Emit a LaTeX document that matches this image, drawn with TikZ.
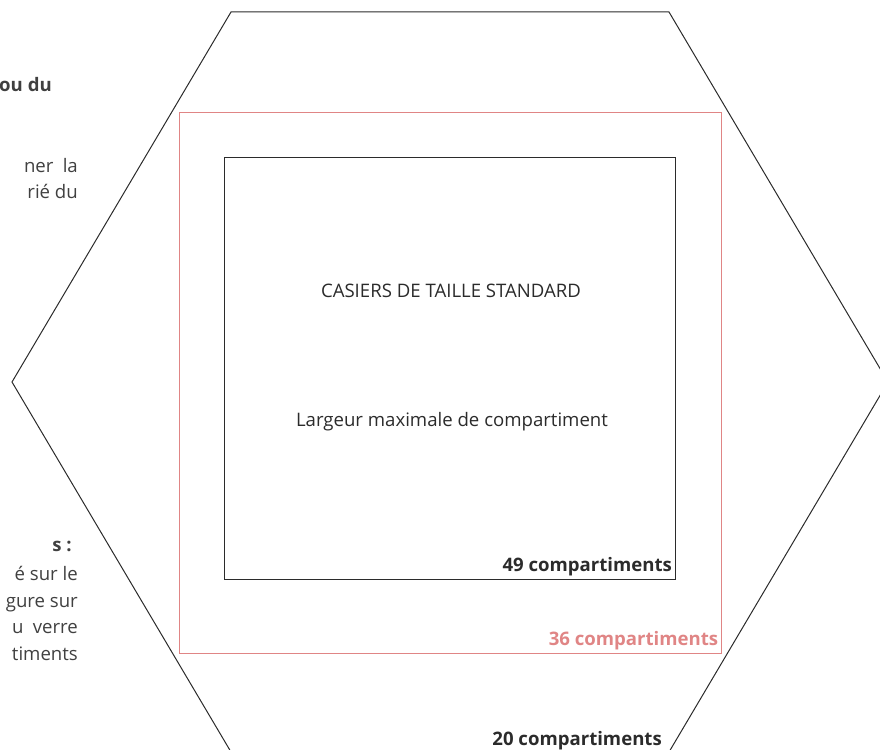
\documentclass[tikz,border=0pt]{standalone}
\usepackage{fontspec}
\setmainfont{Open Sans}
\usetikzlibrary{positioning}
\definecolor{casepink}{HTML}{E08585}
\definecolor{inkgray}{HTML}{2B2B2B}

\begin{document}
\begin{tikzpicture}[x=1pt, y=-1pt,
  hexline/.style={draw=inkgray, line width=1pt},
  zone/.style={inner sep=0pt, line width=1.1pt},
  lbl/.style={font=\fontsize{18.6}{22}\selectfont, text=inkgray},
  count/.style={font=\fontsize{18.6}{22}\selectfont\bfseries, inner sep=4pt, anchor=south east},
  side/.style={font=\fontsize{18.6}{22}\selectfont, text=inkgray!90, anchor=base east, inner sep=0pt}
]
\useasboundingbox (0,0) rectangle (880,749);
\clip (0,0) rectangle (880,749);

% Hexagon (20)
\draw[hexline] (231,12) -- (669,12) -- (888,382) -- (669,752) -- (231,752) -- (12,382) -- cycle;

% Frames (36, 49)
\node[zone, draw=casepink, line width=1.4pt, minimum width=542pt, minimum height=541pt, anchor=north west] (zone36) at (179,112) {};
\node[zone, draw=inkgray, minimum width=451pt, minimum height=422pt, anchor=north west] (zone49) at (224,157) {};

% Centre texts
\node[lbl] (title) at (451,291) {CASIERS DE TAILLE STANDARD};
\node[lbl] (width) at (452,422) {Largeur maximale de compartiment};

% Counts
\node[count, text=inkgray] (n49) at (zone49.south east) {49 compartiments};
\node[count, text=casepink] (n36) at (zone36.south east) {36 compartiments};
\node[count, text=inkgray, inner sep=0pt, anchor=base east] (n20) at (662,745) {20 compartiments};

% Cut-off page text, left
\node[side, font=\fontsize{18.6}{22}\selectfont\bfseries] (t1) at (52,92) {ou du};
\node[side] (t2) at (78,172) {ner\enspace la};
\node[side] (t3) at (78,198) {rié du};
\node[side, font=\fontsize{18.6}{22}\selectfont\bfseries] (t4) at (72,551) {s :};
\node[side] (t5) at (78,580) {é sur le};
\node[side] (t6) at (78,607) {gure sur};
\node[side] (t7) at (78,633) {u\enspace verre};
\node[side] (t8) at (78,660) {timents};

\end{tikzpicture}
\end{document}
